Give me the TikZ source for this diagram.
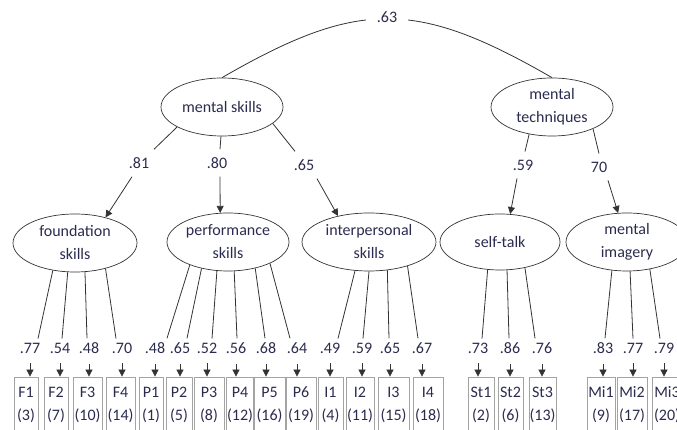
\documentclass[tikz,border=0pt]{standalone}
\usepackage{fontspec}
\setmainfont{Carlito}
\usepackage{tikz}
\usetikzlibrary{arrows.meta, shapes.geometric}
\definecolor{txtc}{HTML}{2B2B4F}
\definecolor{linec}{HTML}{333333}
\definecolor{boxline}{HTML}{A3A3A3}
\tikzset{
  lat/.style  = {ellipse, draw=linec, line width=0.7pt, inner sep=0pt, align=center,
                 text=txtc, minimum width=122pt, minimum height=58pt},
  ind/.style  = {draw=boxline, line width=0.8pt, align=center, inner xsep=0.5pt,
                 minimum height=56pt, text=txtc},
  lbl/.style  = {inner sep=4pt, text=txtc},
  load/.style = {draw=linec, line width=0.8pt},
  reg/.style  = {load, -{Triangle[length=7pt, width=7pt]}}
}

\begin{document}
\begin{tikzpicture}[x=1pt, y=1pt, font=\fontsize{16}{23}\selectfont]
  \useasboundingbox (0,0) rectangle (677,430);
  \clip (0,0) rectangle (677,430);

  % second order
  \node[lat] (ms) at (222,323) {mental skills};
  \node[lat] (mt) at (552,323) {mental\\techniques};
  \draw[load] (ms.north) .. controls +(30:157) and +(150:157) .. (mt.north)
       node[lbl, pos=0.5, fill=white, inner xsep=11pt, yshift=2pt] (l63) {.63};

  % first order
  \node[lat, minimum width=124pt] (fs) at (75,187)  {foundation\\skills};
  \node[lat] (ps) at (228,188) {performance\\skills};
  \node[lat, minimum width=134pt] (is) at (369,188) {interpersonal\\skills};
  \node[lat, minimum width=120pt, minimum height=56pt] (st) at (500,188) {self-talk};
  \node[lat] (mi) at (627,188) {mental\\imagery};

  \node[lbl, inner ysep=8pt] (l81) at (139,267) {.81};
  \node[lbl, inner ysep=8pt] (l80) at (217,267) {.80};
  \node[lbl, inner ysep=8pt] (l65) at (304,265) {.65};
  \node[lbl, inner ysep=8pt] (l59) at (523,265) {.59};
  \node[lbl, inner ysep=8pt] (l70) at (599,263) {70};

  \draw[load] (ms.204) -- ([xshift=15pt]l81.north);
  \draw[reg] ([xshift=-7pt]l81.south) -- (fs.40);
  \draw[load] (ms.268) -- ([xshift=3pt]l80.north);
  \draw[reg] ([xshift=3pt]l80.south) -- (ps.105);
  \draw[load] (ms.342) -- ([xshift=-9pt]l65.north);
  \draw[reg] ([xshift=13pt]l65.south) -- (is.140);
  \draw[load] (mt.230) -- ([xshift=2pt]l59.north);
  \draw[reg] ([xshift=-6pt]l59.south) -- (st.70);
  \draw[load] (mt.332) -- (l70.north);
  \draw[reg] ([xshift=9pt]l70.south) -- (mi.107);

  % items
  \foreach \id/\num/\bx/\bw/\lx/\val/\fac/\ang/\ex in {
      F1/(3)/26/24/30/.77/fs/231/8,      F2/(7)/56/24/60/.54/fs/256/2,
      F3/(10)/87.5/29/89/.48/fs/289/-2,  F4/(14)/120.5/29/122/.70/fs/320/-6,
      P1/(1)/151/24/155/.48/ps/211/12,   P2/(5)/179/26/180/.65/ps/225/7,
      P3/(8)/209/30/207/.52/ps/249/5,    P4/(12)/240/24/236/.56/ps/282/1,
      P5/(16)/269.5/31/266/.68/ps/316/-1, P6/(19)/301/30/297/.64/ps/333/-7,
      I1/(4)/330.5/25/330/.49/is/244/8,  I2/(11)/360/28/362/.59/is/270/1,
      I3/(15)/393.5/31/390/.65/is/303/-1, I4/(18)/428/30/422/.67/is/328/-4,
      St1/(2)/481/26/478/.73/st/246/4,   St2/(6)/510.5/25/510/.86/st/284/-1,
      St3/(13)/542.5/27/542/.76/st/314/-7,
      Mi1/(9)/601/28/603/.83/mi/242/2,   Mi2/(17)/632/30/633/.77/mi/276/0,
      Mi3/(20)/667/30/664/.79/mi/310/-4}{
    \node[ind, minimum width=\bw pt] (\id) at (\bx,25) {\id\\\num};
    \node[lbl] (l\id) at (\lx,82) {\val};
    \draw[load] (\fac.\ang) -- ([xshift=\ex pt]l\id.north);
    \draw[reg, shorten <=6pt] (l\id.south) -- (l\id.south |- \id.north);
  }
\end{tikzpicture}
\end{document}
